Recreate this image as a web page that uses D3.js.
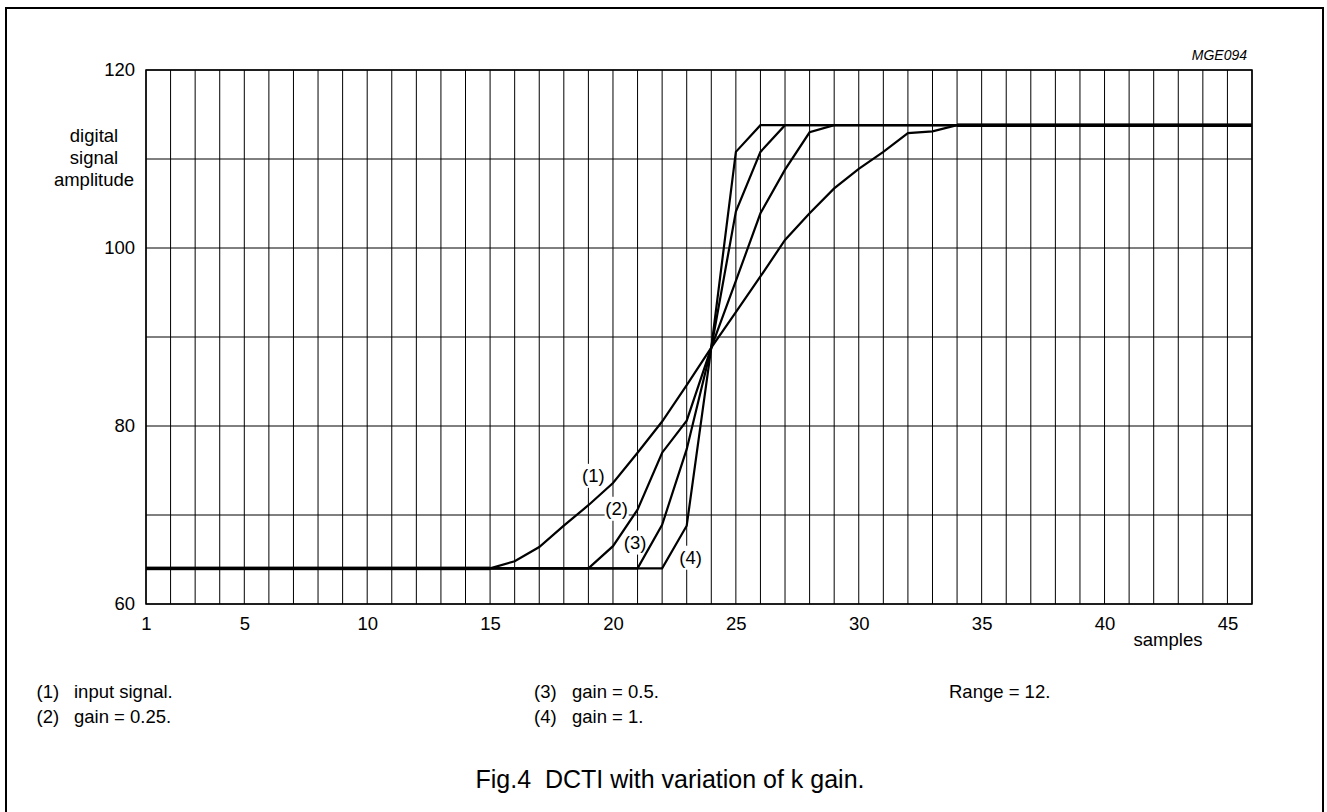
<!DOCTYPE html>
<html>
<head>
<meta charset="utf-8">
<script src="https://cdn.jsdelivr.net/npm/d3@7"></script>
<style>
  html, body { margin: 0; padding: 0; background: #fff; }
  svg { display: block; }
  text { font-family: "Liberation Sans", Arial, Helvetica, sans-serif; fill: #000; white-space: pre; }
</style>
</head>
<body>
<svg id="chart" width="1327" height="812"></svg>
<script>
// ---- data ----
const samples = [1,2,3,4,5,6,7,8,9,10,11,12,13,14,15,16,17,18,19,20,21,22,23,24,25,26,27,28,29,30,31,32,33,34,35,36,37,38,39,40,41,42,43,44,45,46];
const inputSignal = [64,64,64,64,64,64,64,64,64,64,64,64,64,64,64,64.8,66.4,68.8,71.1,73.6,77.0,80.5,84.6,88.8,92.8,96.8,100.9,103.9,106.7,108.9,110.8,112.9,113.1,113.8,113.8,113.8,113.8,113.8,113.8,113.8,113.8,113.8,113.8,113.8,113.8,113.8];
const gain025 = [64,64,64,64,64,64,64,64,64,64,64,64,64,64,64,64,64,64,64,66.5,70.6,77.0,80.6,88.8,96.3,103.9,108.8,113.0,113.8,113.8,113.8,113.8,113.8,113.8,113.8,113.8,113.8,113.8,113.8,113.8,113.8,113.8,113.8,113.8,113.8,113.8];
const gain05 = [64,64,64,64,64,64,64,64,64,64,64,64,64,64,64,64,64,64,64,64,64,68.9,77.4,88.8,104.1,110.8,113.8,113.8,113.8,113.8,113.8,113.8,113.8,113.8,113.8,113.8,113.8,113.8,113.8,113.8,113.8,113.8,113.8,113.8,113.8,113.8];
const gain1 = [64,64,64,64,64,64,64,64,64,64,64,64,64,64,64,64,64,64,64,64,64,64,68.8,88.8,110.8,113.8,113.8,113.8,113.8,113.8,113.8,113.8,113.8,113.8,113.8,113.8,113.8,113.8,113.8,113.8,113.8,113.8,113.8,113.8,113.8,113.8];
const seriesList = [inputSignal, gain025, gain05, gain1];

const xTickValues = [1,5,10,15,20,25,30,35,40,45];
const yTickValues = [60,80,100,120];
const yGridValues = [60,70,80,90,100,110,120];

const curveLabels = ["(1)", "(2)", "(3)", "(4)"];
const curveLabelX = [19.2, 20.15, 20.9, 23.16];
const curveLabelY = [74.4, 70.7, 66.9, 65.2];

const yAxisTitle = ["digital", "signal", "amplitude"];
const xAxisTitle = "samples";
const figCode = "MGE094";
const notesLeft = [["(1)", "input signal."], ["(2)", "gain = 0.25."]];
const notesMid = [["(3)", "gain = 0.5."], ["(4)", "gain = 1."]];
const noteRight = "Range = 12.";
const figTitle = "Fig.4  DCTI with variation of k gain.";

// ---- layout ----
const svg = d3.select("#chart");
const L = 146, R = 1252, T = 70, B = 604;
const x = d3.scaleLinear().domain([1, 46]).range([L, R]);
const y = d3.scaleLinear().domain([60, 120]).range([B, T]);

// outer frame
svg.append("rect").attr("x", 6).attr("y", 8).attr("width", 1317).attr("height", 840)
  .attr("fill", "none").attr("stroke", "#000").attr("stroke-width", 2);

// grid
const grid = svg.append("g");
grid.selectAll("line.v").data(samples).enter().append("line")
  .attr("x1", d => x(d)).attr("x2", d => x(d)).attr("y1", T).attr("y2", B)
  .attr("stroke", "#000").attr("stroke-width", 1);
grid.selectAll("line.h").data(yGridValues).enter().append("line")
  .attr("x1", L).attr("x2", R).attr("y1", d => y(d)).attr("y2", d => y(d))
  .attr("stroke", "#000").attr("stroke-width", 1);
svg.append("rect").attr("x", L).attr("y", T).attr("width", R - L).attr("height", B - T)
  .attr("fill", "none").attr("stroke", "#000").attr("stroke-width", 1.5);

// axes (labels only)
const yAxis = d3.axisLeft(y).tickValues(yTickValues).tickSize(0).tickPadding(11);
const gy = svg.append("g").attr("transform", `translate(${L},0)`).call(yAxis);
gy.select(".domain").remove();
gy.selectAll("text").style("font-size", "18.5px").style("font-family", '"Liberation Sans", Arial, sans-serif');

const xAxis = d3.axisBottom(x).tickValues(xTickValues).tickSize(0).tickPadding(13);
const gx = svg.append("g").attr("transform", `translate(0,${B})`).call(xAxis);
gx.select(".domain").remove();
gx.selectAll("text").style("font-size", "18.5px").style("font-family", '"Liberation Sans", Arial, sans-serif');

// curve labels with white background
const lab = svg.append("g");
curveLabels.forEach((t, i) => {
  const g = lab.append("g").attr("transform", `translate(${x(curveLabelX[i])},${y(curveLabelY[i])})`);
  g.append("rect").attr("x", -12).attr("y", -12).attr("width", 24).attr("height", 24).attr("fill", "#fff");
  g.append("text").attr("text-anchor", "middle").attr("dy", "0.35em").style("font-size", "18.5px").text(t);
});

// curves
const line = d3.line().x((d, i) => x(samples[i])).y(d => y(d));
svg.append("g").selectAll("path").data(seriesList).enter().append("path")
  .attr("d", d => line(d)).attr("fill", "none").attr("stroke", "#000")
  .attr("stroke-width", 2.2).attr("stroke-linejoin", "miter");

// flat shared segments (drawn heavier as in original)
const flatSegs = [];
for (let i = 0; i < samples.length - 1; i++) {
  if (seriesList.every(s => s[i] === s[i + 1] && s[i] === inputSignal[i])) flatSegs.push(i);
}
svg.append("g").selectAll("line").data(flatSegs).enter().append("line")
  .attr("x1", i => x(samples[i])).attr("x2", i => x(samples[i + 1]))
  .attr("y1", i => y(inputSignal[i])).attr("y2", i => y(inputSignal[i + 1]))
  .attr("stroke", "#000").attr("stroke-width", 3.6);

// axis titles
yAxisTitle.forEach((t, i) => {
  svg.append("text").attr("x", 94).attr("y", 141.5 + i * 22.3).attr("text-anchor", "middle")
    .style("font-size", "18.5px").text(t);
});
svg.append("text").attr("x", 1168).attr("y", 646).attr("text-anchor", "middle")
  .style("font-size", "18.5px").text(xAxisTitle);
svg.append("text").attr("x", 1247).attr("y", 60).attr("text-anchor", "end")
  .style("font-size", "14px").style("font-style", "italic").text(figCode);

// footnotes
notesLeft.forEach((n, i) => {
  svg.append("text").attr("x", 36.5).attr("y", 698 + i * 25).style("font-size", "18.5px").text(n[0]);
  svg.append("text").attr("x", 74).attr("y", 698 + i * 25).style("font-size", "18.5px").text(n[1]);
});
notesMid.forEach((n, i) => {
  svg.append("text").attr("x", 534).attr("y", 698 + i * 25).style("font-size", "18.5px").text(n[0]);
  svg.append("text").attr("x", 572).attr("y", 698 + i * 25).style("font-size", "18.5px").text(n[1]);
});
svg.append("text").attr("x", 949).attr("y", 698).style("font-size", "18.5px").text(noteRight);

svg.append("text").attr("x", 670).attr("y", 788).attr("text-anchor", "middle")
  .style("font-size", "25px").text(figTitle);
</script>
</body>
</html>
